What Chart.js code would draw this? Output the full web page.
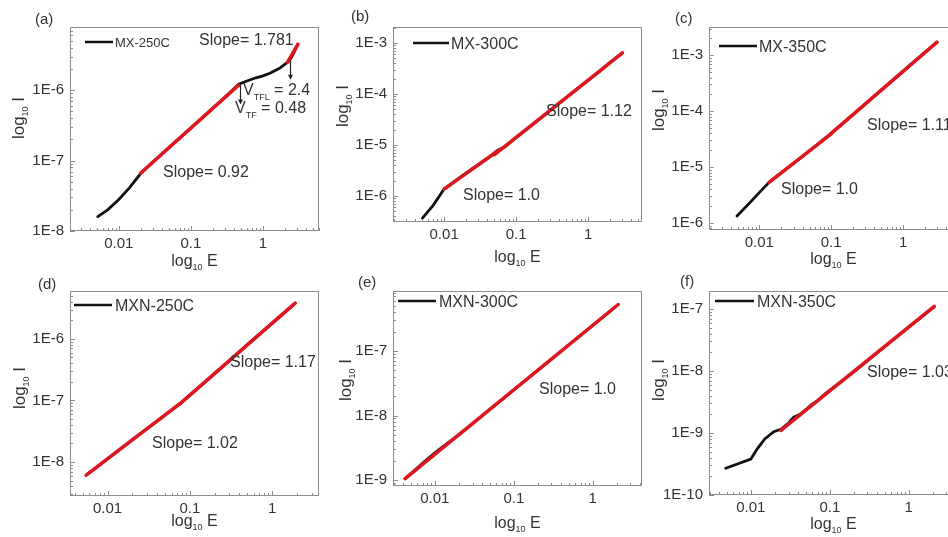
<!DOCTYPE html>
<html>
<head>
<meta charset="utf-8">
<title>log I vs log E</title>
<script src="https://cdn.jsdelivr.net/npm/chart.js@4.4.1/dist/chart.umd.min.js"></script>
<style>
  html, body { margin: 0; padding: 0; background: #fff; }
  #page { position: relative; width: 948px; height: 537px; overflow: hidden; background: #fff; }
  #page canvas { position: absolute; }
</style>
</head>
<body>
<div id="page"></div>
<script>
// tick labels shared by every panel
const eTicks = [0.01, 0.1, 1];

// (a) MX-250C
const mx250E = [0.0051, 0.007, 0.01, 0.014, 0.02, 0.03, 0.05, 0.1, 0.2, 0.3, 0.46, 0.6, 0.8, 1.0, 1.25, 1.7, 2.2, 2.5, 2.8, 3.06];
const mx250I = [1.6e-8, 2.0e-8, 2.8e-8, 4.1e-8, 6.5e-8, 9.6e-8, 1.55e-7, 2.9e-7, 5.5e-7, 8.0e-7, 1.22e-6, 1.35e-6, 1.5e-6, 1.6e-6, 1.74e-6, 2.05e-6, 2.5e-6, 2.95e-6, 3.7e-6, 4.5e-6];
const mx250FitFrom = [0.02, 2.2];
const mx250FitTo = [0.46, 3.06];
const mx250FitI = [6.6e-8, 2.5e-6];
const mx250Slope = ['0.92', '1.781'];
const mx250Vtf = '0.48';
const mx250Vtfl = '2.4';

// (b) MX-300C
const mx300E = [0.005, 0.007, 0.01, 0.02, 0.04, 0.055, 0.07, 0.1, 0.2, 0.4, 0.7, 1.0, 1.5, 2.0, 3.0];
const mx300I = [3.7e-7, 6.5e-7, 1.37e-6, 2.8e-6, 5.5e-6, 7.8e-6, 9.2e-6, 1.4e-5, 3.0e-5, 6.6e-5, 1.24e-4, 1.85e-4, 2.9e-4, 4.1e-4, 6.4e-4];
const mx300FitFrom = [0.01, 0.05];
const mx300FitTo = [0.055, 3.0];
const mx300FitI = [1.37e-6, 6.5e-6];
const mx300Slope = ['1.0', '1.12'];

// (c) MX-350C
const mx350E = [0.0049, 0.007, 0.01, 0.0138, 0.02, 0.03, 0.05, 0.1, 0.2, 0.5, 1.0, 2.0, 2.96];
const mx350I = [1.33e-6, 2.15e-6, 3.5e-6, 5.4e-6, 7.8e-6, 1.17e-5, 1.95e-5, 4.0e-5, 8.6e-5, 2.4e-4, 5.2e-4, 1.12e-3, 1.7e-3];
const mx350FitFrom = [0.0138, 0.1];
const mx350FitTo = [0.1, 2.96];
const mx350FitI = [5.4e-6, 4.0e-5];
const mx350Slope = ['1.0', '1.11'];

// (d) MXN-250C
const mxn250E = [0.0055, 0.008, 0.01, 0.02, 0.04, 0.075, 0.15, 0.3, 0.6, 1.0, 1.9];
const mxn250I = [6.1e-9, 8.9e-9, 1.12e-8, 2.3e-8, 4.6e-8, 8.7e-8, 1.95e-7, 4.4e-7, 1.0e-6, 1.8e-6, 3.8e-6];
const mxn250FitFrom = [0.0055, 0.075];
const mxn250FitTo = [0.075, 1.9];
const mxn250FitI = [6.1e-9, 8.7e-8];
const mxn250Slope = ['1.02', '1.17'];

// (e) MXN-300C
const mxn300E = [0.0042, 0.006, 0.008, 0.01, 0.013, 0.017, 0.025, 0.05, 0.1, 0.3, 1.0, 2.1];
const mxn300I = [1.05e-9, 1.55e-9, 2.1e-9, 2.65e-9, 3.4e-9, 4.3e-9, 6.2e-9, 1.25e-8, 2.5e-8, 7.5e-8, 2.5e-7, 5.25e-7];
const mxn300FitFrom = [0.0042];
const mxn300FitTo = [2.1];
const mxn300FitI = [1.05e-9];
const mxn300Slope = ['1.0'];

// (f) MXN-350C
const mxn350E = [0.0048, 0.01, 0.012, 0.015, 0.0195, 0.024, 0.03, 0.035, 0.042, 0.05, 0.059, 0.07, 0.087, 0.2, 0.5, 1.0, 2.1];
const mxn350I = [2.7e-10, 3.8e-10, 5.5e-10, 8.0e-10, 1.05e-9, 1.15e-9, 1.45e-9, 1.8e-9, 2.0e-9, 2.4e-9, 2.9e-9, 3.3e-9, 4.3e-9, 9.6e-9, 2.5e-8, 5.1e-8, 1.08e-7];
const mxn350FitFrom = [0.024];
const mxn350FitTo = [2.1];
const mxn350FitI = [1.1e-9];
const mxn350Slope = ['1.03'];

const FONT = "'Liberation Sans', Arial, sans-serif";
const INK = '#333';
const AXIS = '#8c8c8c';
const RED = '#e0161f';

// frame = [left, top, right, bottom] on the page, everything else in page px too
const panels = [
  { tag: '(a)', name: 'MX-250C', E: mx250E, I: mx250I,
    fit: [mx250FitFrom, mx250FitTo, mx250FitI, mx250Slope],
    frame: [70, 27, 319, 231], xr: [0.0021, 6.0], yr: [1e-8, 7.9e-6], yTicks: [1e-8, 1e-7, 1e-6],
    tagAt: [35, 24], yTitle: [18, 118], xTitleY: 266,
    legend: [85, 113, 42, 115, 13], slopeAt: [[163, 177], [199, 45]] },
  { tag: '(b)', name: 'MX-300C', E: mx300E, I: mx300I,
    fit: [mx300FitFrom, mx300FitTo, mx300FitI, mx300Slope],
    frame: [393, 27, 642, 222], xr: [0.00195, 5.6], yr: [3.1e-7, 2.05e-3], yTicks: [1e-6, 1e-5, 1e-4, 1e-3],
    tagAt: [351, 21], yTitle: [342, 106], xTitleY: 262,
    legend: [413, 449, 43, 451, 16], slopeAt: [[463, 200], [546, 116]] },
  { tag: '(c)', name: 'MX-350C', E: mx350E, I: mx350I,
    fit: [mx350FitFrom, mx350FitTo, mx350FitI, mx350Slope],
    frame: [709, 27, 958, 230], xr: [0.002, 5.8], yr: [7.5e-7, 3.2e-3], yTicks: [1e-6, 1e-5, 1e-4, 1e-3],
    tagAt: [675, 23], yTitle: [658, 110], xTitleY: 264,
    legend: [719, 757, 46, 759, 16], slopeAt: [[781, 194], [867, 130]] },
  { tag: '(d)', name: 'MXN-250C', E: mxn250E, I: mxn250I,
    fit: [mxn250FitFrom, mxn250FitTo, mxn250FitI, mxn250Slope],
    frame: [70, 291, 319, 496], xr: [0.0035, 3.7], yr: [2.8e-9, 6.0e-6], yTicks: [1e-8, 1e-7, 1e-6],
    tagAt: [38, 289], yTitle: [19, 388], xTitleY: 526,
    legend: [74, 112, 305, 115, 16], slopeAt: [[152, 448], [230, 367]] },
  { tag: '(e)', name: 'MXN-300C', E: mxn300E, I: mxn300I,
    fit: [mxn300FitFrom, mxn300FitTo, mxn300FitI, mxn300Slope],
    frame: [393, 291, 642, 486], xr: [0.00295, 4.2], yr: [8.1e-10, 8.5e-7], yTicks: [1e-9, 1e-8, 1e-7],
    tagAt: [358, 287], yTitle: [345, 380], xTitleY: 528,
    legend: [398, 436, 301, 439, 16], slopeAt: [[539, 394]] },
  { tag: '(f)', name: 'MXN-350C', E: mxn350E, I: mxn350I,
    fit: [mxn350FitFrom, mxn350FitTo, mxn350FitI, mxn350Slope],
    frame: [709, 291, 958, 495], xr: [0.00295, 4.2], yr: [1e-10, 1.95e-7], yTicks: [1e-10, 1e-9, 1e-8, 1e-7],
    tagAt: [680, 286], yTitle: [658, 380], xTitleY: 529,
    legend: [715, 754, 301, 757, 16], slopeAt: [[867, 377]] }
];

// text made of runs of different sizes (for subscripts); parts = [text, size, dy]
function runs(ctx, x, y, parts, center) {
  let w = 0;
  parts.forEach(([t, s]) => { ctx.font = s + 'px ' + FONT; w += ctx.measureText(t).width; });
  let cx = center ? x - w / 2 : x;
  parts.forEach(([t, s, dy]) => {
    ctx.font = s + 'px ' + FONT;
    ctx.fillText(t, cx, y + (dy || 0));
    cx += ctx.measureText(t).width;
  });
}

// inward log ticks, longer at each decade
function logTickMarks(ctx, scale, area, horizontal) {
  const lo = Math.floor(Math.log10(scale.min));
  const hi = Math.ceil(Math.log10(scale.max));
  ctx.beginPath();
  for (let d = lo; d <= hi; d++) {
    for (let m = 1; m <= 9; m++) {
      const v = m * Math.pow(10, d);
      if (v < scale.min || v > scale.max) continue;
      const len = m === 1 ? 5 : 3;
      const p = Math.round(scale.getPixelForValue(v)) + 0.5;
      if (horizontal) { ctx.moveTo(p, area.bottom); ctx.lineTo(p, area.bottom - len); }
      else { ctx.moveTo(area.left, p); ctx.lineTo(area.left + len, p); }
    }
  }
  ctx.stroke();
}

function logInterp(E, I, e) {
  for (let k = 1; k < E.length; k++) {
    if (e <= E[k]) {
      const t = Math.log(e / E[k - 1]) / Math.log(E[k] / E[k - 1]);
      return Math.exp(Math.log(I[k - 1]) + t * Math.log(I[k] / I[k - 1]));
    }
  }
  return I[I.length - 1];
}

function arrowDown(ctx, x, y0, y1) {
  ctx.beginPath();
  ctx.moveTo(x, y0); ctx.lineTo(x, y1 - 3);
  ctx.stroke();
  ctx.beginPath();
  ctx.moveTo(x - 2.5, y1 - 5); ctx.lineTo(x + 2.5, y1 - 5); ctx.lineTo(x, y1);
  ctx.closePath();
  ctx.fill();
}

function makeDecor(p) {
  const ox = p.frame[0] - 70, oy = p.frame[1] - 27;
  return {
    id: 'decor',
    afterDraw(chart) {
      const { ctx, chartArea: a, scales } = chart;
      ctx.save();
      ctx.strokeStyle = AXIS;
      ctx.lineWidth = 1;
      ctx.strokeRect(a.left + 0.5, a.top + 0.5, a.width - 1, a.height - 1);
      logTickMarks(ctx, scales.x, a, true);
      logTickMarks(ctx, scales.y, a, false);

      ctx.fillStyle = INK;
      ctx.textAlign = 'left';
      ctx.textBaseline = 'alphabetic';
      ctx.font = '15px ' + FONT;
      ctx.fillText(p.tag, p.tagAt[0] - ox, p.tagAt[1] - oy);

      // axis titles
      runs(ctx, (a.left + a.right) / 2, p.xTitleY - oy, [['log', 16], ['10', 9, 4], [' E', 16]], true);
      ctx.save();
      ctx.translate(p.yTitle[0] - ox, p.yTitle[1] - oy);
      ctx.rotate(-Math.PI / 2);
      runs(ctx, 0, 6, [['log', 17], ['10', 9, 4], [' I', 17]], true);
      ctx.restore();

      // legend
      const [l0, l1, ly, tx, fs] = p.legend;
      ctx.strokeStyle = '#111';
      ctx.lineWidth = 2.5;
      ctx.beginPath();
      ctx.moveTo(l0 - ox, ly - oy); ctx.lineTo(l1 - ox, ly - oy);
      ctx.stroke();
      ctx.font = fs + 'px ' + FONT;
      ctx.fillText(p.name, tx - ox, ly - oy + fs * 0.36);

      // slope labels
      ctx.font = '16px ' + FONT;
      p.fit[3].forEach((s, k) => {
        ctx.fillText('Slope= ' + s, p.slopeAt[k][0] - ox, p.slopeAt[k][1] - oy);
      });

      // trap-filling voltages marked on the MX-250C curve
      if (p.vtf) {
        ctx.strokeStyle = '#222';
        ctx.fillStyle = '#222';
        ctx.lineWidth = 1.2;
        [[Number(p.vtf), 20], [Number(p.vtfl), 20]].forEach(([v, len]) => {
          const x = Math.round(scales.x.getPixelForValue(v)) + 0.5;
          const y = scales.y.getPixelForValue(logInterp(p.E, p.I, v)) + 1;
          arrowDown(ctx, x, y, y + len);
        });
        ctx.fillStyle = INK;
        runs(ctx, 243 - ox, 95 - oy, [['V', 16], ['TFL', 9, 5], [' = ' + p.vtfl, 16]]);
        runs(ctx, 235 - ox, 113 - oy, [['V', 16], ['TF', 9, 5], [' = ' + p.vtf, 16]]);
      }
      ctx.restore();
    }
  };
}

panels[0].vtf = mx250Vtf;
panels[0].vtfl = mx250Vtfl;

const page = document.getElementById('page');

panels.forEach((p) => {
  const [L, T, R, B] = p.frame;
  const canvas = document.createElement('canvas');
  canvas.width = R - L + 80;
  canvas.height = B - T + 77;
  canvas.style.left = (L - 70) + 'px';
  canvas.style.top = (T - 27) + 'px';
  page.appendChild(canvas);

  const [from, to, i0, slopes] = p.fit;
  const fits = from.map((e0, k) => ({
    data: [{ x: e0, y: i0[k] }, { x: to[k], y: i0[k] * Math.pow(to[k] / e0, Number(slopes[k])) }],
    borderColor: RED,
    borderWidth: 3.5,
    order: 0
  }));

  new Chart(canvas, {
    type: 'scatter',
    data: {
      datasets: [
        ...fits,
        {
          data: p.E.map((e, i) => ({ x: e, y: p.I[i] })),
          borderColor: '#111',
          borderWidth: 2.8,
          order: 1
        }
      ]
    },
    options: {
      responsive: false,
      animation: false,
      events: [],
      showLine: true,
      elements: { point: { radius: 0 }, line: { tension: 0, borderCapStyle: 'round' } },
      layout: { padding: { top: 27, right: 10, left: 0, bottom: 0 } },
      plugins: { legend: { display: false }, tooltip: { enabled: false } },
      scales: {
        x: {
          type: 'logarithmic',
          min: p.xr[0],
          max: p.xr[1],
          grid: { display: false, drawTicks: false },
          border: { display: false },
          afterBuildTicks: (s) => { s.ticks = eTicks.map((v) => ({ value: v })); },
          afterFit: (s) => { s.height = 50; },
          ticks: {
            autoSkip: false, maxRotation: 0, padding: 4,
            color: INK, font: { family: FONT, size: 15 },
            callback: (v) => String(v)
          }
        },
        y: {
          type: 'logarithmic',
          min: p.yr[0],
          max: p.yr[1],
          grid: { display: false, drawTicks: false },
          border: { display: false },
          afterBuildTicks: (s) => { s.ticks = p.yTicks.map((v) => ({ value: v })); },
          afterFit: (s) => { s.width = 70; },
          ticks: {
            autoSkip: false, padding: 6,
            color: INK, font: { family: FONT, size: 15 },
            callback: (v) => '1E' + Math.round(Math.log10(v))
          }
        }
      }
    },
    plugins: [makeDecor(p)]
  });
});
</script>
</body>
</html>
